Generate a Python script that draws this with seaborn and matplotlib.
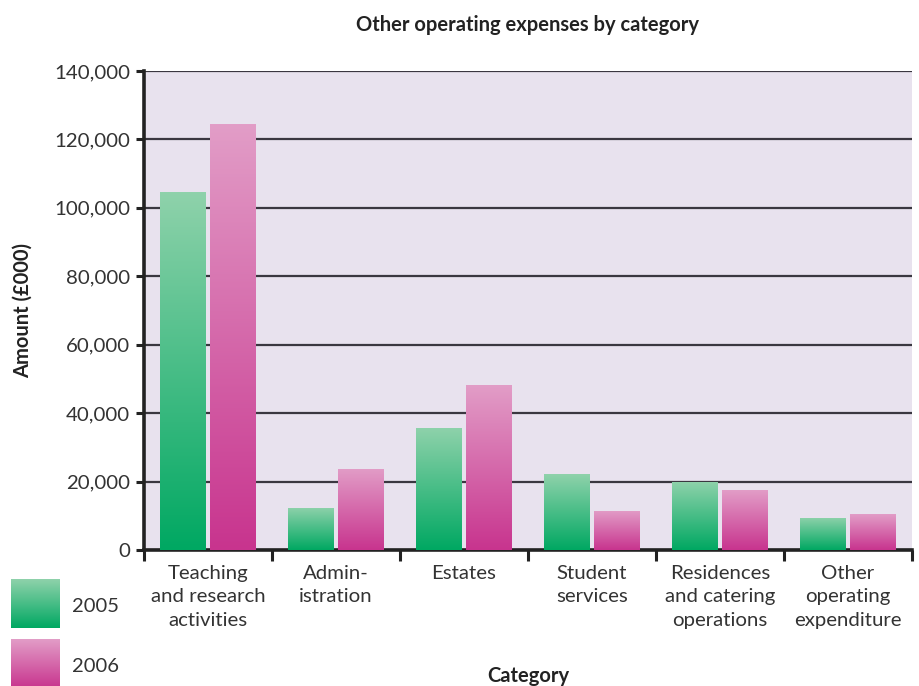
import matplotlib
matplotlib.use("Agg")
import matplotlib.pyplot as plt
from matplotlib.colors import LinearSegmentedColormap
from matplotlib.ticker import FuncFormatter, FixedLocator
import numpy as np
import pandas as pd
import seaborn as sns

categories = [
    "Teaching\nand research\nactivities",
    "Admin-\nistration",
    "Estates",
    "Student\nservices",
    "Residences\nand catering\noperations",
    "Other\noperating\nexpenditure",
]
years = ["2005", "2006"]
amount_2005 = [104600, 12300, 35700, 22200, 19900, 9400]
amount_2006 = [124500, 23700, 48200, 11400, 17500, 10500]

df = pd.DataFrame({
    "Category": categories * 2,
    "Year": [years[0]] * len(categories) + [years[1]] * len(categories),
    "Amount": amount_2005 + amount_2006,
})

sns.set_theme(style="white")
plt.rcParams["font.family"] = ["Lato", "DejaVu Sans"]

text_col = "#333333"
bg_col = "#e8e2ee"
grads = {
    "2005": LinearSegmentedColormap.from_list("g05", ["#00a862", "#8fd2ab"]),
    "2006": LinearSegmentedColormap.from_list("g06", ["#c8348e", "#e29dc7"]),
}

fig = plt.figure(figsize=(9.2, 6.86), dpi=100)
ax = fig.add_axes([144 / 920, 1 - 550 / 686, 768 / 920, 479 / 686])
ax.set_facecolor(bg_col)

sns.barplot(data=df, x="Category", y="Amount", hue="Year", order=categories,
            hue_order=years, width=0.78, gap=0.08, ax=ax, legend=False,
            palette={"2005": "#00a862", "2006": "#c8348e"}, saturation=1,
            errorbar=None, zorder=3)

# replace flat fills with a vertical gradient for each bar
grad = np.linspace(0, 1, 256).reshape(-1, 1)
n = len(categories)
for i, patch in enumerate(ax.patches):
    year = years[i // n]
    x0, y0 = patch.get_x(), patch.get_y()
    w, h = patch.get_width(), patch.get_height()
    im = ax.imshow(grad, cmap=grads[year], origin="lower", aspect="auto",
                   extent=(x0, x0 + w, y0, y0 + h), zorder=3)
    im.set_clip_path(patch)
    patch.set_facecolor("none")
    patch.set_edgecolor("none")

ax.set_xlim(-0.5, n - 0.5)
ax.set_ylim(0, 140000)

# y axis
ax.yaxis.set_major_locator(FixedLocator(np.arange(0, 140001, 20000)))
ax.yaxis.set_major_formatter(FuncFormatter(lambda v, p: f"{int(v):,}"))
ax.grid(axis="y", color="#3a3740", linewidth=1.6, zorder=1)
ax.set_axisbelow(True)
ax.tick_params(axis="y", which="major", direction="out", length=6, width=2.2,
               color="#222222", labelsize=14.7, labelcolor=text_col, pad=4, left=True)

# x axis: boundary ticks + centred labels
ax.xaxis.set_major_locator(FixedLocator(np.arange(-0.5, n, 1.0)))
ax.xaxis.set_major_formatter(FuncFormatter(lambda v, p: ""))
ax.xaxis.set_minor_locator(FixedLocator(np.arange(n)))
ax.set_xticklabels(categories, minor=True, linespacing=1.48)
ax.tick_params(axis="x", which="major", direction="out", length=8, width=2.2,
               color="#222222", bottom=True)
ax.tick_params(axis="x", which="minor", length=0, labelsize=14.7,
               labelcolor=text_col, pad=10.5)

for side in ["top", "right"]:
    ax.spines[side].set_visible(False)
for side in ["left", "bottom"]:
    ax.spines[side].set_color("#222222")
    ax.spines[side].set_linewidth(2.6)

ax.set_xlabel("Category", fontsize=14.5, fontweight="bold", color="#222222",
              va="center")
ax.xaxis.set_label_coords(0.5, -(676 - 550) / 479)
ax.set_ylabel("Amount (£000)", fontsize=14.5, fontweight="bold", color="#222222",
              va="center")
ax.yaxis.set_label_coords(-(144 - 23) / 768, 0.5)
ax.set_title("Other operating expenses by category", fontsize=14.5,
             fontweight="bold", color="#222222", pad=29)

# legend swatches below the y axis
for k, (year, top) in enumerate(zip(years, [579, 639])):
    lax = fig.add_axes([11 / 920, 1 - (top + 49) / 686, 49 / 920, 49 / 686])
    lax.imshow(grad, cmap=grads[year], origin="lower", aspect="auto")
    lax.set_axis_off()
    fig.text(72 / 920, 1 - (top + 28) / 686, year, fontsize=14.5,
             color=text_col, va="center", ha="left")

fig.savefig("out.png", dpi=100)
